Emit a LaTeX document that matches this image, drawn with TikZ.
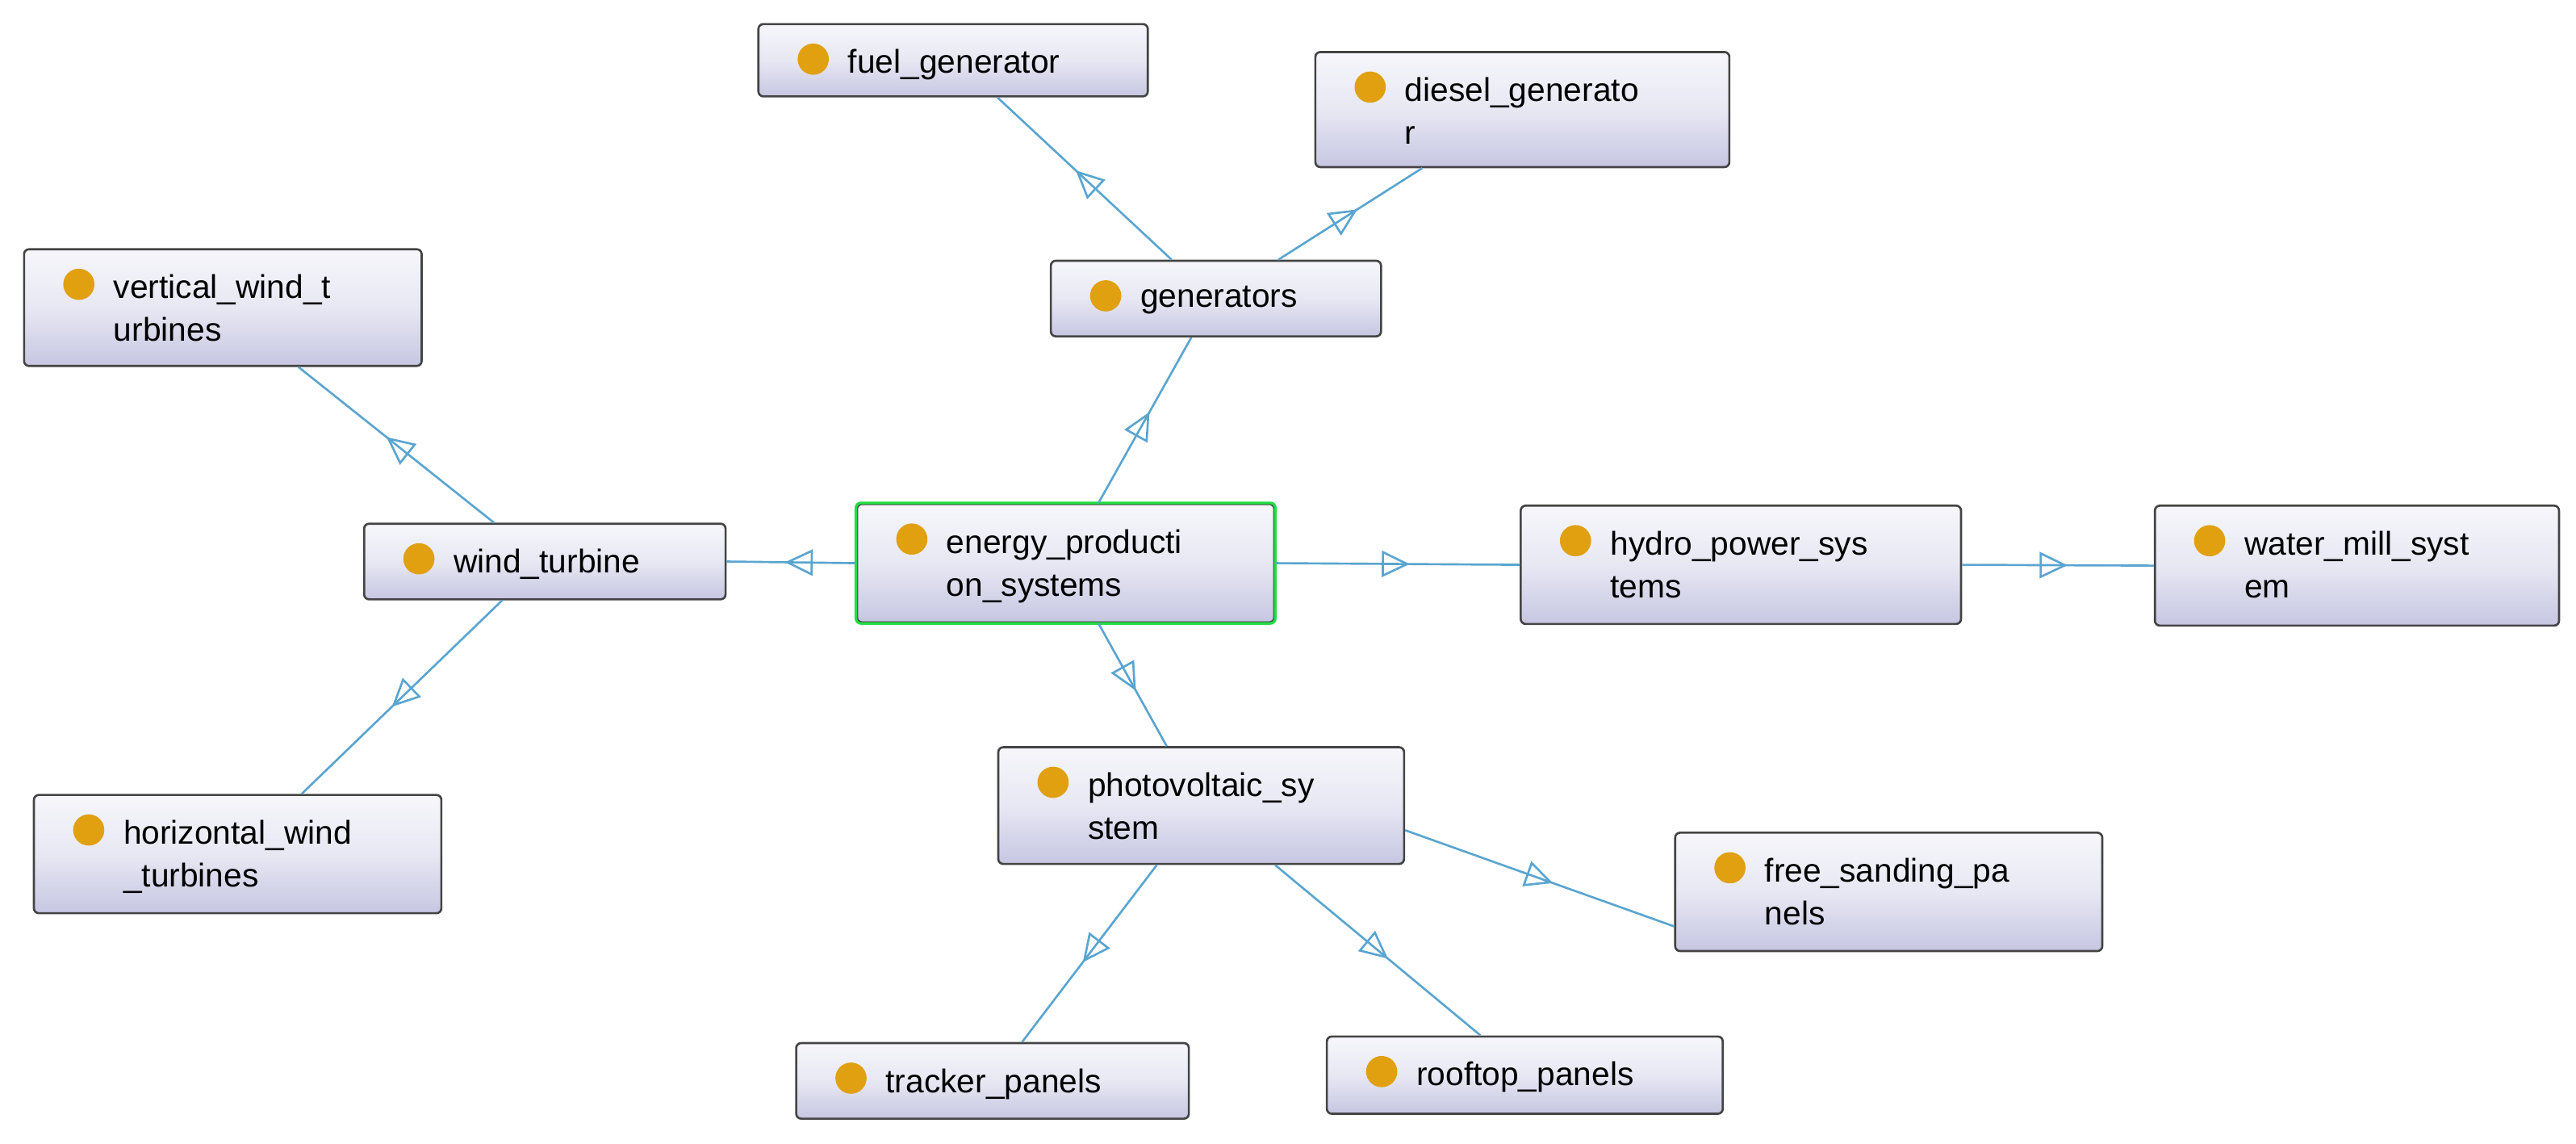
\documentclass[tikz,border=0pt]{standalone}
\usepackage{fontspec}
\setmainfont{Liberation Sans}
\usetikzlibrary{arrows.meta,decorations.markings,calc}
\definecolor{edge}{HTML}{5AA5D0}
\definecolor{dotc}{HTML}{E0A010}
\definecolor{btop}{HTML}{F6F6FB}
\definecolor{bbot}{HTML}{C6C6E2}
\definecolor{bord}{HTML}{444444}
\definecolor{grn}{HTML}{22DD44}
\tikzset{
 box/.style={draw=bord,line width=1.3pt,rounded corners=3pt,top color=btop,bottom color=bbot,middle color=btop!70!bbot,inner sep=0pt,anchor=north west},
 lbl/.style={anchor=north west,inner sep=0pt,font=\fontsize{20}{26}\selectfont,align=left},
 dot/.style={circle,fill=dotc,minimum size=19pt,inner sep=0pt},
 isa/.style={draw=edge,line width=1.3pt,decoration={markings,mark=at position 0.55 with {\arrow{Triangle[open,length=17pt,width=16pt,line width=1.3pt]}}},postaction={decorate}}
}
\newcommand{\onto}[6]{% name, x1,y1,x2,y2, text (1 or 2 lines)
 \node[box,minimum width=#4-#2,minimum height=#5-#3] (#1) at (#2,#3) {};
 \node[dot] (#1d) at ($(#1.north west)+(34,22)$) {};
 \node[lbl] (#1t) at ($(#1.north west)+(55,16)$) {#6};
}
\begin{document}
\begin{tikzpicture}[x=1pt,y=-1pt]
\useasboundingbox (0,0) rectangle (1568,696);
\onto{fuel}{461}{14}{698}{58}{fuel\_generator}
\onto{diesel}{800}{31}{1052}{101}{diesel\_generato\\r}
\onto{gen}{639}{158}{840}{204}{generators}
\onto{vert}{14}{151}{256}{222}{vertical\_wind\_t\\urbines}
\onto{wind}{221}{318}{441}{364}{wind\_turbine}
\onto{energy}{521}{306}{775}{378}{energy\_producti\\on\_systems}
\onto{hydro}{925}{307}{1193}{379}{hydro\_power\_sys\\tems}
\onto{water}{1311}{307}{1557}{380}{water\_mill\_syst\\em}
\onto{pv}{607}{454}{854}{525}{photovoltaic\_sy\\stem}
\onto{free}{1019}{506}{1279}{578}{free\_sanding\_pa\\nels}
\onto{horiz}{20}{483}{268}{555}{horizontal\_wind\\\_turbines}
\onto{track}{484}{634}{723}{680}{tracker\_panels}
\onto{roof}{807}{630}{1048}{677}{rooftop\_panels}
\draw[grn,line width=1.6pt,rounded corners=3pt] (energy.north west) rectangle (energy.south east);
\draw[isa] ([xshift=20]energy.north) -- ([xshift=-15]gen.south);
\draw[isa] ([xshift=-27]gen.north) -- ([xshift=27]fuel.south);
\draw[isa] ([xshift=38]gen.north) -- ([xshift=-61]diesel.south);
\draw[isa] (energy.west) -- (wind.east);
\draw[isa] ([xshift=-31]wind.north) -- ([xshift=46]vert.south);
\draw[isa] ([xshift=-26]wind.south) -- ([xshift=39]horiz.north);
\draw[isa] (energy.east) -- (hydro.west);
\draw[isa] (hydro.east) -- (water.west);
\draw[isa] ([xshift=20]energy.south) -- ([xshift=-21]pv.north);
\draw[isa] ([yshift=-15]pv.east) -- ([yshift=-21]free.west);
\draw[isa] ([xshift=-27]pv.south) -- ([xshift=18]track.north);
\draw[isa] ([xshift=45]pv.south) -- ([xshift=-27]roof.north);
\end{tikzpicture}
\end{document}
